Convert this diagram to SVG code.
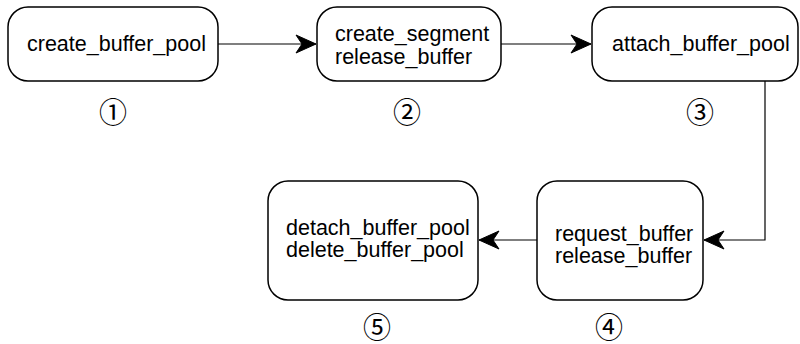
<svg xmlns="http://www.w3.org/2000/svg" width="800" height="344" viewBox="0 0 800 344">
  <style>
    .box { fill: #fff; stroke: #000; stroke-width: 1.5; }
    .lbl { font-family: "Liberation Sans", Arial, Helvetica, sans-serif; font-size: 21.5px; fill: #000; }
    .num { font-family: "Noto Sans CJK SC", "Noto Sans CJK JP", sans-serif; font-size: 28px; fill: #000; text-anchor: middle; dominant-baseline: central; }
    .edge { fill: none; stroke: #000; stroke-width: 1.2; }
  </style>
  <defs>
    <marker id="arrow" markerUnits="userSpaceOnUse" viewBox="-21 -10 22 20" refX="0" refY="0" markerWidth="22" markerHeight="20" orient="auto">
      <path d="M0,0 L-20,-9 L-14,0 L-20,9 Z" fill="#000" stroke="#000" stroke-width="1"/>
    </marker>
  </defs>
  <rect width="800" height="344" fill="#fff"/>

  <g id="connectors">
    <path class="edge" d="M218,44 L316,44" marker-end="url(#arrow)"/>
    <path class="edge" d="M501,44 L591,44" marker-end="url(#arrow)"/>
    <path class="edge" d="M765,81 L765,240 L704,240" marker-end="url(#arrow)"/>
    <path class="edge" d="M537,240 L479,240" marker-end="url(#arrow)"/>
  </g>

  <g id="node1">
    <rect class="box" x="8" y="7" width="210" height="74" rx="20" ry="20"/>
    <text class="lbl" x="27" y="51">create_buffer_pool</text>
    <text class="num" x="113" y="111">①</text>
  </g>

  <g id="node2">
    <rect class="box" x="317" y="7" width="184" height="74" rx="20" ry="20"/>
    <text class="lbl" x="335" y="41">create_segment</text>
    <text class="lbl" x="335" y="64">release_buffer</text>
    <text class="num" x="407" y="111">②</text>
  </g>

  <g id="node3">
    <rect class="box" x="592" y="7" width="206" height="74" rx="20" ry="20"/>
    <text class="lbl" x="612" y="51">attach_buffer_pool</text>
    <text class="num" x="700" y="111">③</text>
  </g>

  <g id="node4">
    <rect class="box" x="537" y="181" width="166" height="119" rx="20" ry="20"/>
    <text class="lbl" x="555" y="241">request_buffer</text>
    <text class="lbl" x="555" y="263">release_buffer</text>
    <text class="num" x="609" y="326">④</text>
  </g>

  <g id="node5">
    <rect class="box" x="268" y="181" width="210" height="119" rx="20" ry="20"/>
    <text class="lbl" x="286" y="235">detach_buffer_pool</text>
    <text class="lbl" x="286" y="257">delete_buffer_pool</text>
    <text class="num" x="377" y="326">⑤</text>
  </g>
</svg>
